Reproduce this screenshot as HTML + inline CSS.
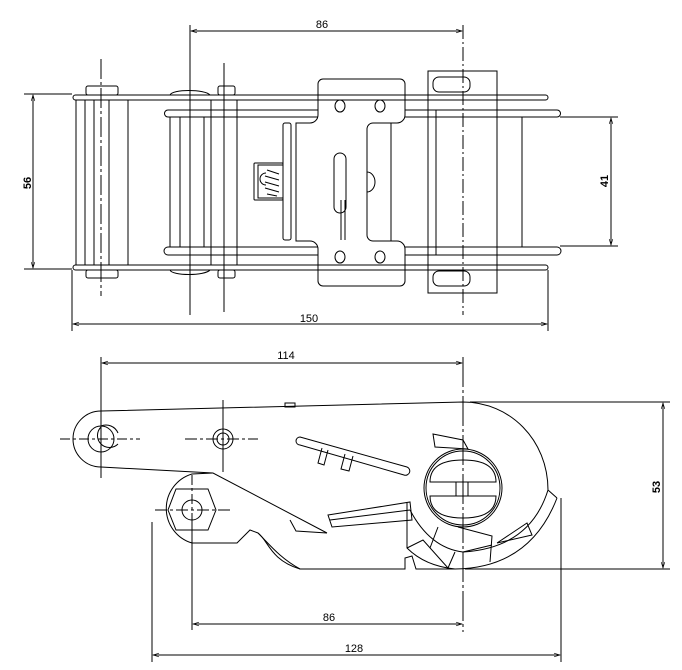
<!DOCTYPE html>
<html><head><meta charset="utf-8"><style>
html,body{margin:0;padding:0;background:#fff;}
svg{display:block;}
text{font-family:"Liberation Sans",sans-serif;fill:#000;}
</style></head><body>
<svg width="682" height="670" viewBox="0 0 682 670" xmlns="http://www.w3.org/2000/svg">
<defs>
<marker id="a" viewBox="0 0 10 10" refX="10" refY="5" markerWidth="8" markerHeight="6" orient="auto-start-reverse"><path d="M0,2 L10,5 L0,8" fill="none" stroke="#000" stroke-width="1"/></marker>
</defs>
<g fill="none" stroke="#000" stroke-width="1">
<!-- ===== TOP VIEW ===== -->
<line x1="190" y1="25" x2="190" y2="315"/>
<line x1="463" y1="25" x2="463" y2="315" stroke-dasharray="14,3,2,3"/>
<line x1="191" y1="31" x2="462" y2="31" marker-start="url(#a)" marker-end="url(#a)"/>
<line x1="24" y1="94" x2="72" y2="94"/><line x1="24" y1="269" x2="72" y2="269"/>
<line x1="33" y1="95" x2="33" y2="268" marker-start="url(#a)" marker-end="url(#a)"/>
<line x1="560" y1="117" x2="618" y2="117"/><line x1="560" y1="246" x2="618" y2="246"/>
<line x1="611" y1="118" x2="611" y2="245" marker-start="url(#a)" marker-end="url(#a)"/>
<line x1="72" y1="270" x2="72" y2="331"/><line x1="548" y1="270" x2="548" y2="331"/>
<line x1="73" y1="324" x2="547" y2="324" marker-start="url(#a)" marker-end="url(#a)"/>
<rect x="73" y="95" width="475" height="5" rx="2.5"/>
<rect x="73" y="265" width="475" height="5" rx="2.5"/>
<path d="M168,110 H318 M168,117 H318 M405,110 H557 M405,117 H557"/>
<path d="M168,110 a3.5,3.5 0 0 0 0,7 M557,110 a3.5,3.5 0 0 1 0,7"/>
<path d="M168,247 H318 M168,255 H318 M405,247 H557 M405,255 H557"/>
<path d="M168,247 a4,4 0 0 0 0,8 M557,247 a4,4 0 0 1 0,8"/>
<path d="M76,100 V265 M85,100 V265 M94,100 V265 M109,100 V265 M128,100 V265"/>
<rect x="86" y="86" width="32" height="9" rx="2"/>
<rect x="86" y="270" width="32" height="8" rx="2"/>
<line x1="101" y1="59" x2="101" y2="296" stroke-dasharray="20,3,3,3"/>
<path d="M170,117 V247 M180,117 V247 M204,117 V247 M211,100 V265 M237,100 V265"/>
<path d="M170,95 C172,89 205,89 210,95 M170,270 C172,276 205,276 210,270"/>
<rect x="218" y="86" width="17" height="9" rx="2"/>
<rect x="218" y="270" width="17" height="8" rx="2"/>
<line x1="224" y1="63" x2="224" y2="312"/>
<path d="M237,110 H318 M237,255 H318"/>
<rect x="283" y="123" width="8" height="117" rx="2"/>
<rect x="254" y="163" width="29" height="37" rx="1"/>
<rect x="258" y="165" width="25" height="33"/>
<path d="M267,170 l12,4 M265,176 l14,4 M265,182 l14,4 M265,188 l14,4 M267,194 l10,2"/>
<path d="M266,185 a5,5 0 0 1 0,-12"/>
<path d="M323,79 H400 a5,5 0 0 1 5,5 V115 a8,8 0 0 1 -8,8 H373 a6,6 0 0 0 -6,6 V235 a6,6 0 0 0 6,6 H397 a8,8 0 0 1 8,8 V281 a5,5 0 0 1 -5,5 H323 a5,5 0 0 1 -5,-5 V249 a8,8 0 0 0 -8,-8 H296 V123 H310 a8,8 0 0 0 8,-8 V84 a5,5 0 0 1 5,-5 Z"/>
<ellipse cx="340" cy="106" rx="5" ry="6"/><ellipse cx="380" cy="106" rx="5" ry="6"/>
<ellipse cx="340" cy="257" rx="5" ry="6"/><ellipse cx="380" cy="257" rx="5" ry="6"/>
<rect x="334" y="153" width="12" height="60" rx="6"/>
<line x1="341" y1="200" x2="341" y2="240"/><line x1="345" y1="200" x2="345" y2="240"/>
<path d="M367,172 a8,10 0 0 1 0,20"/>
<line x1="391" y1="123" x2="391" y2="241"/>
<path d="M428,71 H497 V293 H428 Z"/>
<rect x="433" y="77" width="37" height="15" rx="6"/>
<rect x="433" y="271" width="37" height="15" rx="6"/>
<path d="M436,110 V255 M522,117 V247"/>
<!-- ===== SIDE VIEW ===== -->
<line x1="101" y1="357" x2="101" y2="478"/>
<line x1="463" y1="357" x2="463" y2="632" stroke-dasharray="30,3,3,3"/>
<line x1="102" y1="363" x2="462" y2="363" marker-start="url(#a)" marker-end="url(#a)"/>
<line x1="470" y1="402" x2="670" y2="402"/><line x1="465" y1="569" x2="670" y2="569"/>
<line x1="663" y1="403" x2="663" y2="568" marker-start="url(#a)" marker-end="url(#a)"/>
<line x1="192" y1="520" x2="192" y2="630"/>
<line x1="193" y1="624" x2="462" y2="624" marker-start="url(#a)" marker-end="url(#a)"/>
<line x1="152" y1="522" x2="152" y2="662"/><line x1="561" y1="498" x2="561" y2="662"/>
<line x1="153" y1="655" x2="560" y2="655" marker-start="url(#a)" marker-end="url(#a)"/>
<path d="M101,411 L463,402 C510,402 548,440 548,490 L557,498"/>
<path d="M101,411 A28,28 0 0 0 101,467 L213,473 L327,533"/>
<circle cx="101" cy="439" r="13"/>
<path d="M101,427 a12,12 0 1 0 17,17 L118,444 M101,426 a13,13 0 0 1 17,7"/>
<line x1="60" y1="439" x2="140" y2="439" stroke-dasharray="10,3,3,3"/>
<circle cx="223" cy="439" r="10"/><circle cx="223" cy="439" r="6"/>
<line x1="185" y1="439" x2="258" y2="439" stroke-dasharray="12,3,3,3"/>
<line x1="223" y1="400" x2="223" y2="472"/>
<rect x="285" y="403" width="10" height="4"/>
<path d="M213,473 L192,474 A36,36 0 0 0 192,543 L237,543 L250,530 L258,533 C268,540 270,560 300,569 L405,569 L405,558 L412,556 L416,569 L455,569"/>
<path d="M258,533 C270,545 280,558 300,569"/>
<polygon points="176,489 208,489 216,510 208,530 176,530 168,510"/>
<circle cx="192" cy="510" r="10"/>
<line x1="155" y1="510" x2="232" y2="510" stroke-dasharray="12,3,3,3"/>
<line x1="192" y1="475" x2="192" y2="520" stroke-dasharray="10,3,3,3"/>
<path d="M300,437 L407,467 a4,4 0 0 1 -3,8 L300,445 a4,4 0 0 1 0,-8 Z"/>
<path d="M322,448 L318,463 L324,465 L328,450 M345,454 L341,469 L349,471 L353,456"/>
<path d="M328,515 L410,502 L412,520 L332,527 Z M330,520 L410,510"/>
<path d="M290,520 L296,531 L327,533"/>
<circle cx="463" cy="488" r="39"/><circle cx="463" cy="488" r="37"/>
<path d="M430,482 C430,468 440,460 463,460 C486,460 496,468 496,482 Z"/>
<path d="M430,496 C430,510 440,518 463,518 C486,518 496,510 496,496 Z"/>
<rect x="456" y="482" width="12" height="14"/>
<path d="M433,434 L463,440 L468,449 L435,447 Z"/>
<!-- ratchet -->
<path d="M407,503 V548 Q425,566 455,569 Q530,568 557,498"/>
<path d="M410,510 Q430,548 463,552 Q530,548 548,490"/>
<path d="M407,548 L423,540 L448,568 M430,548 L438,527 M448,568 L455,552 M458,527 L492,536 L490,562 M492,545 L463,552 M497,543 L527,523 L532,535 L497,543"/>
</g>
<g font-size="11">
<text x="322" y="28" text-anchor="middle">86</text>
<text x="309" y="322" text-anchor="middle">150</text>
<text x="286" y="359" text-anchor="middle">114</text>
<text x="329" y="621" text-anchor="middle">86</text>
<text x="354" y="652" text-anchor="middle">128</text>
<text x="0" y="0" font-weight="bold" text-anchor="middle" transform="translate(31,183) rotate(-90)">56</text>
<text x="0" y="0" font-weight="bold" text-anchor="middle" transform="translate(608,181) rotate(-90)">41</text>
<text x="0" y="0" font-weight="bold" text-anchor="middle" transform="translate(660,487) rotate(-90)">53</text>
</g>
</svg>
</body></html>
